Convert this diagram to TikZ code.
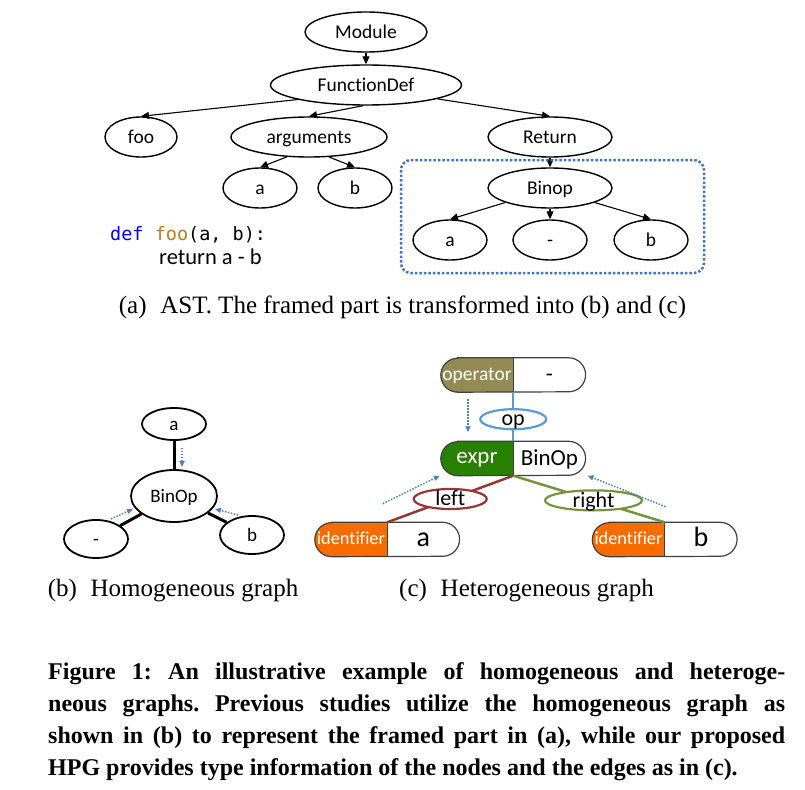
\documentclass[tikz,border=0pt]{standalone}
\usepackage{fontspec}
\setmainfont{Liberation Serif}
\newfontfamily\calibri[Ligatures=NoCommon]{Carlito}
\newfontfamily\consolas{DejaVu Sans Mono}
\usetikzlibrary{shapes.geometric,arrows.meta,positioning,backgrounds}

\definecolor{flowblue}{RGB}{79,129,189}
\definecolor{frameblue}{RGB}{68,114,196}
\definecolor{opblue}{RGB}{91,155,213}
\definecolor{olivetype}{RGB}{148,138,84}
\definecolor{exprgreen}{RGB}{40,128,0}
\definecolor{identorange}{RGB}{246,108,0}
\definecolor{leftred}{RGB}{149,55,53}
\definecolor{rightgreen}{RGB}{119,147,60}
\definecolor{kwblue}{RGB}{0,0,255}
\definecolor{fnorange}{RGB}{196,120,30}

\newcommand{\fs}[1]{\fontsize{#1}{#1}\selectfont}
\newcommand{\lbl}[1]{\raisebox{-.3em}[0pt][0pt]{#1}}
% pill behind a type node (#1) and its value node (#2)
\newcommand{\pill}[3]{%
  \fill[#3] ([xshift=17pt]#1.north west) -- (#1.north east) -- (#1.south east)
     -- ([xshift=17pt]#1.south west) arc[start angle=270,end angle=90,radius=17pt] -- cycle;
  \draw[pilledge] ([xshift=17pt]#1.north west) -- ([xshift=-17pt]#2.north east)
     arc[start angle=90,end angle=-90,radius=17pt] -- ([xshift=17pt]#1.south west)
     arc[start angle=270,end angle=90,radius=17pt] -- cycle;
  \draw[pilledge] (#1.north east) -- (#1.south east);
}

\begin{document}
\begin{tikzpicture}[x=1pt,y=-1pt,
    ast/.style={draw, ellipse, line width=1.4pt, inner sep=0, minimum height=40,
                text height=14pt, text depth=1pt, font=\calibri\fs{19.5}},
    astarrow/.style={line width=1.1pt, -{Triangle[length=8pt,width=7pt]}},
    hom/.style={draw, ellipse, line width=1.8pt, inner sep=0, minimum width=64,
                text height=14pt, text depth=1pt, font=\calibri\fs{19}},
    homedge/.style={line width=3pt},
    flow/.style={draw=flowblue, line width=1.5pt, dash pattern=on 1.5pt off 1.5pt,
                 -{Triangle[length=6pt,width=5pt]}},
    typebox/.style={rectangle, inner sep=0, minimum width=72, minimum height=34,
                    text height=12pt, text depth=2pt, text=white, font=\calibri\fs{19.5}},
    valbox/.style={rectangle, inner sep=0, minimum width=72, minimum height=34,
                   text height=15pt, text depth=2pt, font=\calibri\fs{23}},
    pilledge/.style={draw=black!75, line width=1.2pt},
    edgelbl/.style={ellipse, fill=white, text=black, line width=2.2pt, inner sep=0,
                    minimum height=20, font=\calibri\fs{22}},
    subcap/.style={inner sep=0, font=\fs{25}}
    ]
    \useasboundingbox (0,0) rectangle (805,789);

    % (a) AST
    \node[ast, minimum width=122] (module) at (366,32)  {Module};
    \node[ast, minimum width=191] (fdef)   at (366,85)  {FunctionDef};
    \node[ast, minimum width=72]  (foo)    at (141,137) {foo};
    \node[ast, minimum width=156] (args)   at (309,137) {arguments};
    \node[ast, minimum width=124] (ret)    at (550,137) {Return};
    \node[ast, minimum width=74]  (aa)     at (260,188) {a};
    \node[ast, minimum width=74]  (ab)     at (355,188) {b};
    \node[ast, minimum width=124] (binop)  at (550,188) {Binop};
    \node[ast, minimum width=74]  (ba)     at (450,240) {a};
    \node[ast, minimum width=74]  (bminus) at (550,240) {-};
    \node[ast, minimum width=74]  (bb)     at (651,240) {b};

    \draw[astarrow] (module) -- (fdef);
    \draw[astarrow] (fdef.192) -- (foo.north);
    \draw[astarrow] (fdef.262) -- (args.north);
    \draw[astarrow] (fdef.349) -- (ret.north);
    \draw[astarrow] (args.222) -- (aa.north);
    \draw[astarrow] (args.315) -- (ab.north);
    \draw[astarrow] (ret) -- (binop);
    \draw[astarrow] (binop.198) -- (ba.north);
    \draw[astarrow] (binop) -- (bminus);
    \draw[astarrow] (binop.342) -- (bb.north);

    \draw[frameblue, line width=2.5pt, dash pattern=on 2.5pt off 2pt, rounded corners=10pt]
        (401,160) rectangle (704,273);

    \node[inner sep=0, anchor=base west, font=\consolas\fs{18.5}] (code1) at (110,240)
        {\textcolor{kwblue}{def} \textcolor{fnorange}{foo}(a, b):};
    \node[inner sep=0, anchor=base west, font=\calibri\fs{22.5}] (code2) at (159,264)
        {return a - b};

    \node[subcap, anchor=base] (capa) at (402.5,313)
        {(a)\hspace{0.55em}AST. The framed part is transformed into (b) and (c)};

    % (b) homogeneous graph
    \node[hom, minimum height=32] (ha)     at (174,424) {a};
    \node[hom, minimum width=86, minimum height=52] (hbin) at (174,496) {BinOp};
    \node[hom, minimum height=38] (hminus) at (96,539)  {-};
    \node[hom, minimum height=38] (hb)     at (252,535) {b};

    \draw[homedge] (ha) -- (hbin);
    \draw[homedge] (hminus) -- (hbin);
    \draw[homedge] (hb) -- (hbin);

    \draw[flow] ([shift={(8,7)}]ha.south) -- ([shift={(8,-2)}]hbin.north);
    \draw[flow] ([shift={(15,-20)}]hminus.center) -- ([shift={(-41,13)}]hbin.center);
    \draw[flow] ([shift={(-14,-20)}]hb.center) -- ([shift={(41,13)}]hbin.center);

    \node[subcap, anchor=base] (capb) at (173,596) {(b)\hspace{0.55em}Homogeneous graph};

    % (c) heterogeneous graph
    \node[typebox] (opT) at (477,375) {operator};
    \node[valbox, right=0pt of opT] (opV) {-};
    \node[typebox, font=\calibri\fs{23}] (exprT) at (477,458.5) {expr};
    \node[valbox, right=0pt of exprT] (exprV) {BinOp};
    \node[typebox, font=\calibri\fs{18.3}] (idaT) at (351,539.5) {identifier};
    \node[valbox, right=0pt of idaT, font=\calibri\fs{28}] (idaV) {a};
    \node[typebox, font=\calibri\fs{18.3}] (idbT) at (628.5,539.5) {identifier};
    \node[valbox, right=0pt of idbT, font=\calibri\fs{28}] (idbV) {b};

    \begin{scope}[on background layer]
      \pill{opT}{opV}{olivetype}
      \pill{exprT}{exprV}{exprgreen}
      \pill{idaT}{idaV}{identorange}
      \pill{idbT}{idbV}{identorange}
    \end{scope}

    \draw[opblue, line width=2pt] (opT.south east) -- node[edgelbl, pos=.55, draw=opblue,
        minimum width=66] (oplbl) {\lbl{op}} (exprT.north east);
    \draw[leftred, line width=2.5pt] (exprT.south east) -- node[edgelbl, draw=leftred,
        minimum width=73] (leftlbl) {\lbl{left}} (idaT.north east);
    \draw[rightgreen, line width=2.5pt] (exprT.south east) -- node[edgelbl, pos=.53,
        draw=rightgreen, minimum width=97] (rightlbl) {\lbl{right}} (idbT.north east);

    \draw[flow] ([shift={(-9,7)}]opT.south) -- ([shift={(-9,-9)}]exprT.north);
    \draw[flow] ([shift={(-58,28)}]exprT.south west) -- ([shift={(-1,0)}]exprT.south west);
    \draw[flow] ([shift={(80,31)}]exprV.south east) -- ([shift={(2,0)}]exprV.south east);

    \node[subcap, anchor=base] (capc) at (526.5,596) {(c)\hspace{0.55em}Heterogeneous graph};

    % figure caption
    \node[inner sep=0, anchor=base west, text width=737, align=justify,
          font=\bfseries\fontsize{24}{32}\selectfont\frenchspacing] (figcap) at (48,679)
        {Figure 1: An illustrative example of homogeneous and heteroge-\linebreak
         neous graphs. Previous studies utilize the homogeneous graph as\linebreak
         shown in (b) to represent the framed part in (a), while our proposed\linebreak
         HPG provides type information of the nodes and the edges as in (c).};
\end{tikzpicture}
\end{document}
